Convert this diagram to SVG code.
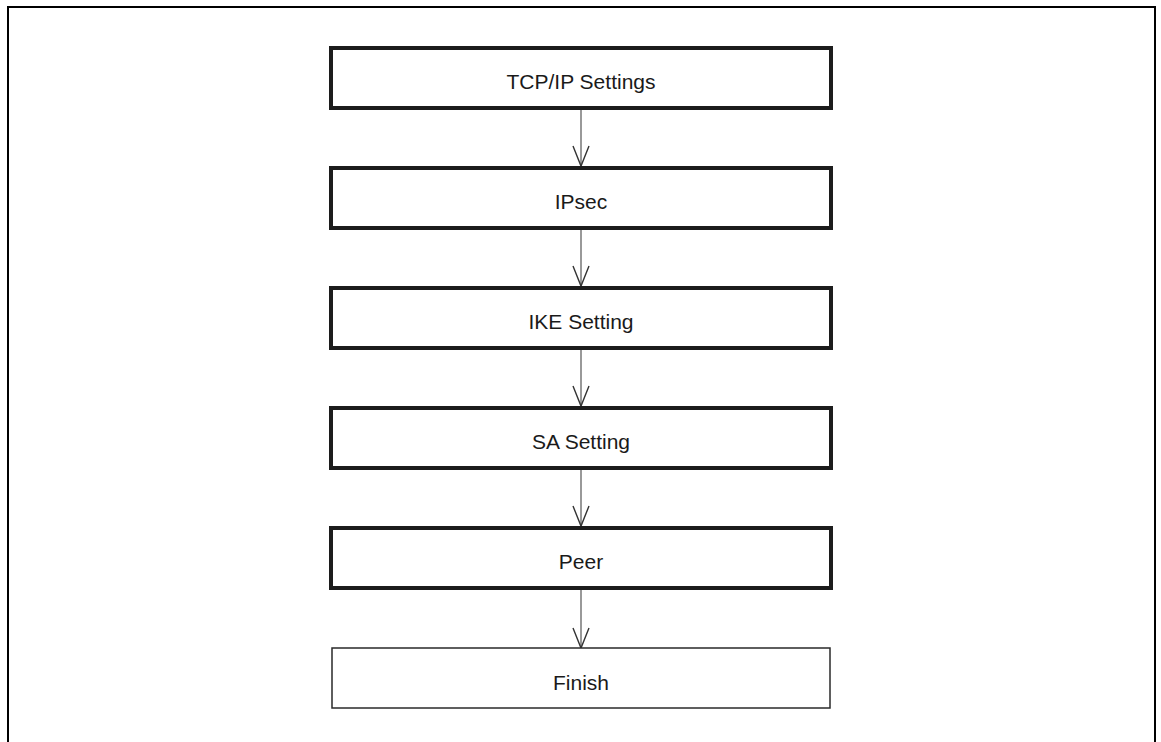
<svg xmlns="http://www.w3.org/2000/svg" width="1161" height="742" viewBox="0 0 1161 742">
<style>
.box{fill:#fff;stroke:#1c1c1c;stroke-width:4}
.fin{fill:#fff;stroke:#2a2a2a;stroke-width:1.5}
.lbl{font-family:"Liberation Sans",Arial,sans-serif;font-size:21px;fill:#1a1a1a;text-anchor:middle}
.con{stroke:#555;stroke-width:1.2;fill:none}
</style>
<defs>
<marker id="v" markerUnits="userSpaceOnUse" markerWidth="24" markerHeight="20" refX="20" refY="0" orient="auto" viewBox="-2 -10 24 20" overflow="visible">
<path d="M0,-8 L20,0 L0,8" fill="none" stroke="#333" stroke-width="1.4"/>
</marker>
</defs>
<rect width="1161" height="742" fill="#fff"/>
<path d="M8,742 V7 H1155 V742" fill="none" stroke="#000" stroke-width="2"/>
<g id="connectors">
<line class="con" x1="581" y1="110" x2="581" y2="166" marker-end="url(#v)"/>
<line class="con" x1="581" y1="230" x2="581" y2="286" marker-end="url(#v)"/>
<line class="con" x1="581" y1="350" x2="581" y2="406" marker-end="url(#v)"/>
<line class="con" x1="581" y1="470" x2="581" y2="526" marker-end="url(#v)"/>
<line class="con" x1="581" y1="590" x2="581" y2="648" marker-end="url(#v)"/>
</g>
<g id="tcpip"><rect class="box" x="331" y="48" width="500" height="60"/><text class="lbl" x="581" y="89">TCP/IP Settings</text></g>
<g id="ipsec"><rect class="box" x="331" y="168" width="500" height="60"/><text class="lbl" x="581" y="209">IPsec</text></g>
<g id="ike"><rect class="box" x="331" y="288" width="500" height="60"/><text class="lbl" x="581" y="329">IKE Setting</text></g>
<g id="sa"><rect class="box" x="331" y="408" width="500" height="60"/><text class="lbl" x="581" y="449">SA Setting</text></g>
<g id="peer"><rect class="box" x="331" y="528" width="500" height="60"/><text class="lbl" x="581" y="569">Peer</text></g>
<g id="finish"><rect class="fin" x="332" y="648" width="498" height="60"/><text class="lbl" x="581" y="690">Finish</text></g>
</svg>
